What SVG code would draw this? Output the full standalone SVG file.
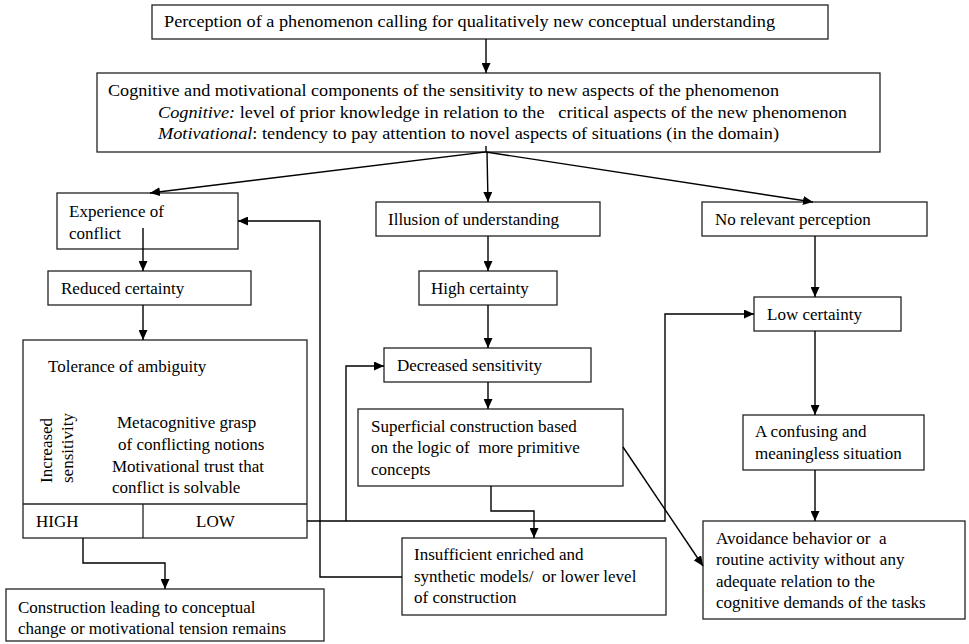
<svg xmlns="http://www.w3.org/2000/svg" width="969" height="644" viewBox="0 0 969 644">
<style>
.box{fill:#fff;stroke:#222;stroke-width:1.3}
.t{font-family:'Liberation Serif','Times New Roman',serif;font-size:17px;fill:#000}
.c{fill:none;stroke:#000;stroke-width:1.4}
</style>
<defs>
<marker id="ah" markerUnits="userSpaceOnUse" markerWidth="11" markerHeight="9" refX="10" refY="4.5" orient="auto">
<path d="M0,0 L10,4.5 L0,9 z" fill="#000"/>
</marker>
</defs>
<rect width="969" height="644" fill="#fff"/>

<g id="n-perception">
<rect class="box" x="152" y="5" width="676" height="34"/>
<text class="t" x="164" y="27" textLength="611" lengthAdjust="spacingAndGlyphs">Perception of a phenomenon calling for qualitatively new conceptual understanding</text>
</g>

<g id="n-components">
<rect class="box" x="97" y="73" width="783" height="79"/>
<text class="t" x="108" y="96" textLength="671" lengthAdjust="spacingAndGlyphs">Cognitive and motivational components of the sensitivity to new aspects of the phenomenon</text>
<text class="t" x="158" y="118" xml:space="preserve" textLength="689" lengthAdjust="spacingAndGlyphs"><tspan font-style="italic">Cognitive:</tspan> level of prior knowledge in relation to the   critical aspects of the new phenomenon</text>
<text class="t" x="158" y="139" textLength="621" lengthAdjust="spacingAndGlyphs"><tspan font-style="italic">Motivational</tspan>: tendency to pay attention to novel aspects of situations (in the domain)</text>
</g>

<g id="n-conflict">
<rect class="box" x="57" y="193" width="181" height="56"/>
<text class="t" x="69" y="217">Experience of</text>
<text class="t" x="69" y="239">conflict</text>
</g>

<g id="n-reduced">
<rect class="box" x="48" y="271" width="203" height="34"/>
<text class="t" x="61" y="294">Reduced certainty</text>
</g>

<g id="n-tolerance">
<rect class="box" x="23" y="340" width="284" height="198"/>
<line class="box" x1="23" y1="504" x2="307" y2="504"/>
<line class="box" x1="143" y1="504" x2="143" y2="538"/>
<text class="t" x="48" y="372">Tolerance of ambiguity</text>
<text class="t" transform="translate(52,483) rotate(-90)">Increased</text>
<text class="t" transform="translate(73,483) rotate(-90)">sensitivity</text>
<text class="t" x="117" y="428">Metacognitive grasp</text>
<text class="t" x="118" y="450">of conflicting notions</text>
<text class="t" x="112" y="472">Motivational trust that</text>
<text class="t" x="112" y="493">conflict is solvable</text>
<text class="t" x="36" y="527">HIGH</text>
<text class="t" x="196" y="527">LOW</text>
</g>

<g id="n-construction">
<rect class="box" x="6" y="589" width="318" height="52"/>
<text class="t" x="18" y="613">Construction leading to conceptual</text>
<text class="t" x="18" y="634">change or motivational tension remains</text>
</g>

<g id="n-illusion">
<rect class="box" x="376" y="202" width="224" height="34"/>
<text class="t" x="388" y="225">Illusion of understanding</text>
</g>

<g id="n-high">
<rect class="box" x="419" y="271" width="138" height="34"/>
<text class="t" x="431" y="294">High certainty</text>
</g>

<g id="n-decreased">
<rect class="box" x="384" y="348" width="207" height="34"/>
<text class="t" x="397" y="371">Decreased sensitivity</text>
</g>

<g id="n-superficial">
<rect class="box" x="358" y="409" width="265" height="77"/>
<text class="t" x="371" y="432">Superficial construction based</text>
<text class="t" x="371" y="453" xml:space="preserve">on the logic of  more primitive</text>
<text class="t" x="371" y="475">concepts</text>
</g>

<g id="n-insufficient">
<rect class="box" x="402" y="538" width="264" height="77"/>
<text class="t" x="414" y="560">Insufficient enriched and</text>
<text class="t" x="414" y="582" xml:space="preserve">synthetic models/  or lower level</text>
<text class="t" x="414" y="603">of construction</text>
</g>

<g id="n-norelevant">
<rect class="box" x="702" y="202" width="225" height="34"/>
<text class="t" x="715" y="225">No relevant perception</text>
</g>

<g id="n-low">
<rect class="box" x="754" y="297" width="147" height="34"/>
<text class="t" x="767" y="320">Low certainty</text>
</g>

<g id="n-confusing">
<rect class="box" x="743" y="415" width="181" height="55"/>
<text class="t" x="755" y="437">A confusing and</text>
<text class="t" x="755" y="459">meaningless situation</text>
</g>

<g id="n-avoidance">
<rect class="box" x="703" y="521" width="262" height="98"/>
<text class="t" x="716" y="544" xml:space="preserve">Avoidance behavior or  a</text>
<text class="t" x="716" y="565">routine activity without any</text>
<text class="t" x="716" y="587">adequate relation to the</text>
<text class="t" x="716" y="608">cognitive demands of the tasks</text>
</g>

<g id="connectors">
<path class="c" d="M486,39 L486,73" marker-end="url(#ah)"/>
<path class="c" d="M486,146 L486,152 L150,193" marker-end="url(#ah)"/>
<path class="c" d="M487,152 L488,202" marker-end="url(#ah)"/>
<path class="c" d="M486,152 L813,202" marker-end="url(#ah)"/>
<path class="c" d="M143,228 L143,271" marker-end="url(#ah)"/>
<path class="c" d="M143,305 L143,340" marker-end="url(#ah)"/>
<path class="c" d="M83,538 L83,563 L165,563 L165,589" marker-end="url(#ah)"/>
<path class="c" d="M307,521 L665,521 L665,314 L754,314" marker-end="url(#ah)"/>
<path class="c" d="M346,521 L346,366 L384,366" marker-end="url(#ah)"/>
<path class="c" d="M402,577 L320,577 L320,221 L238,221" marker-end="url(#ah)"/>
<path class="c" d="M488,236 L488,271" marker-end="url(#ah)"/>
<path class="c" d="M488,305 L488,348" marker-end="url(#ah)"/>
<path class="c" d="M488,382 L488,409" marker-end="url(#ah)"/>
<path class="c" d="M491,486 L491,511 L534,511 L534,538" marker-end="url(#ah)"/>
<path class="c" d="M623,447 L703,566" marker-end="url(#ah)"/>
<path class="c" d="M815,236 L815,297" marker-end="url(#ah)"/>
<path class="c" d="M815,331 L815,415" marker-end="url(#ah)"/>
<path class="c" d="M815,470 L815,521" marker-end="url(#ah)"/>
</g>
</svg>
